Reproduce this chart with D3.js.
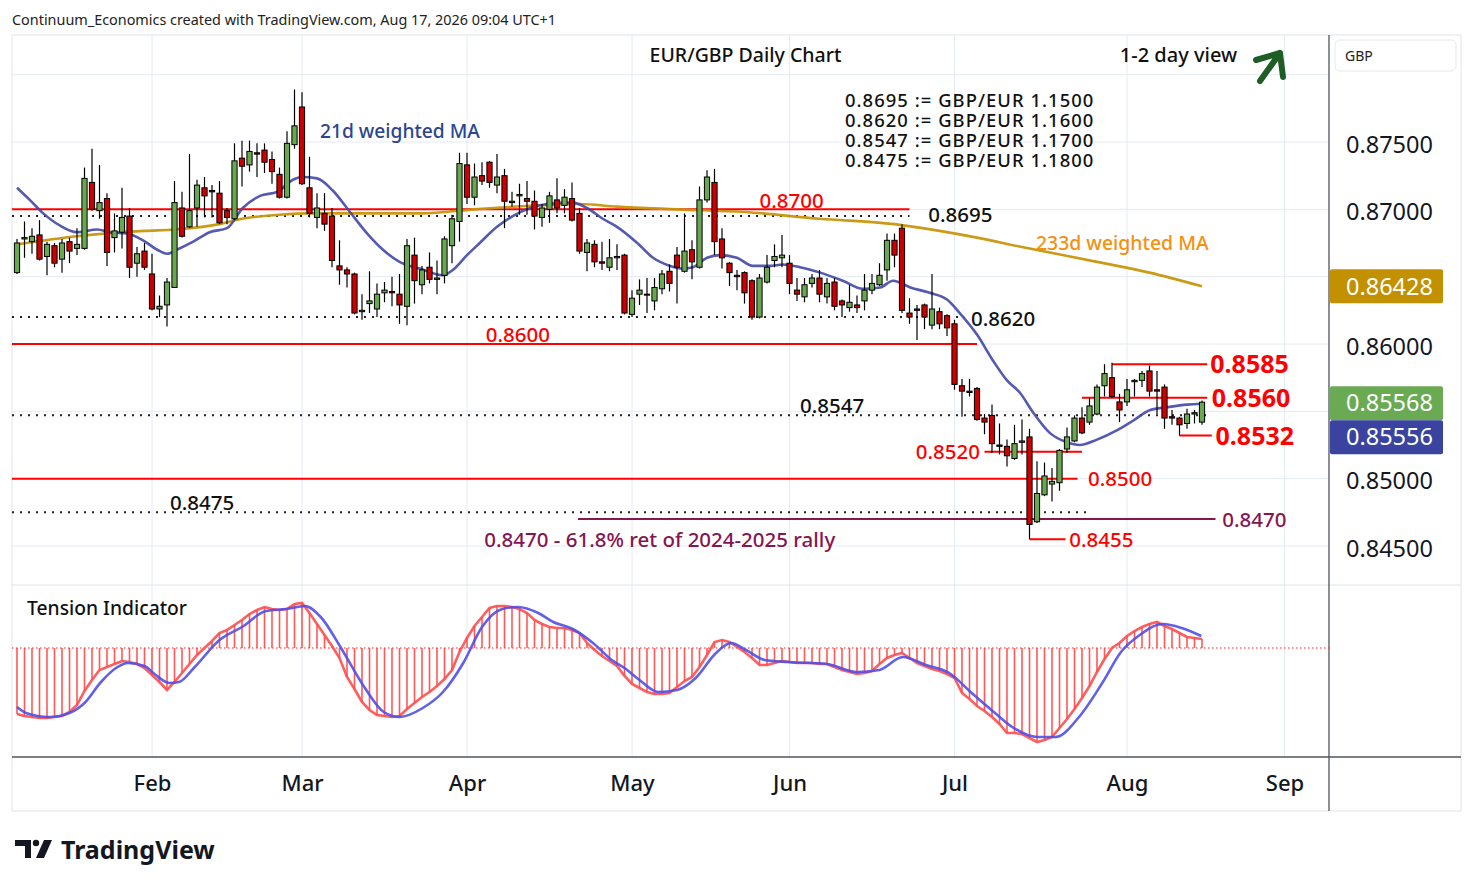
<!DOCTYPE html>
<html><head><meta charset="utf-8">
<script src="https://cdn.jsdelivr.net/npm/d3@7"></script>
<style>
body{margin:0;background:#fff;}
svg{font-family:"Noto Sans","Open Sans",sans-serif;}
</style></head>
<body>
<svg id="c" width="1474" height="887"></svg>
<script>
// ---------------- DATA ----------------
const startDate = "2026-01-07";           // first bar (weekday bars)
const openP  = [.8653,.8678,.8676,.8681,.8665,.8673,.8663,.8676,.8671,.8671,.8720,.8699,.8708,.8679,.8683,.8695,.8660,.8669,.8652,.8626,
.8629,.8642,.8701,.8687,.8701,.8716,.8714,.8712,.8699,.8693,.8738,.8733,.8742,.8744,.8737,.8726,.8709,.8748,.8776,.8716,
.8694,.8697,.8695,.8658,.8655,.8652,.8624,.8630,.8626,.8638,.8639,.8637,.8628,.8666,.8644,.8657,.8648,.8651,.8673,.8691,
.8733,.8709,.8725,.8735,.8718,.8725,.8705,.8710,.8708,.8706,.8694,.8700,.8707,.8703,.8708,.8697,.8668,.8674,.8661,.8657,
.8664,.8666,.8622,.8637,.8637,.8632,.8641,.8654,.8666,.8654,.8670,.8657,.8707,.8720,.8678,.8660,.8651,.8653,.8647,.8620,
.8646,.8662,.8664,.8660,.8640,.8635,.8645,.8649,.8635,.8646,.8632,.8627,.8629,.8632,.8640,.8644,.8655,.8677,.8686,.8623,
.8626,.8629,.8614,.8624,.8621,.8615,.8569,.8565,.8567,.8545,.8547,.8525,.8524,.8515,.8527,.8531,.8468,.8488,.8496,.8497,
.8522,.8528,.8545,.8542,.8548,.8569,.8575,.8557,.8557,.8572,.8573,.8580,.8566,.8568,.8546,.8545,.8541,.8548,.8542];
const highP  = [.8678,.8691,.8686,.8692,.8676,.8675,.8678,.8679,.8686,.8731,.8745,.8733,.8712,.8697,.8716,.8701,.8672,.8675,.8667,.8636,
.8649,.8721,.8713,.8741,.8722,.8724,.8718,.8721,.8701,.8749,.8751,.8751,.8749,.8749,.8743,.8731,.8758,.8789,.8787,.8739,
.8712,.8712,.8701,.8677,.8657,.8653,.8637,.8654,.8645,.8646,.8650,.8652,.8678,.8679,.8658,.8668,.8662,.8680,.8696,.8742,
.8742,.8734,.8735,.8736,.8741,.8730,.8713,.8719,.8721,.8714,.8704,.8713,.8723,.8715,.8720,.8701,.8678,.8677,.8676,.8678,
.8674,.8667,.8640,.8648,.8649,.8649,.8655,.8659,.8672,.8697,.8677,.8717,.8729,.8730,.8686,.8661,.8655,.8654,.8648,.8652,
.8666,.8674,.8681,.8666,.8649,.8649,.8652,.8655,.8649,.8649,.8633,.8644,.8636,.8652,.8652,.8660,.8682,.8682,.8689,.8634,
.8629,.8630,.8652,.8627,.8622,.8618,.8574,.8574,.8568,.8548,.8555,.8541,.8529,.8540,.8544,.8537,.8513,.8512,.8508,.8522,
.8538,.8547,.8553,.8560,.8570,.8585,.8586,.8563,.8574,.8574,.8580,.8584,.8580,.8570,.8551,.8546,.8552,.8551,.8558];
const lowP   = [.8652,.8664,.8667,.8662,.8651,.8657,.8653,.8660,.8666,.8670,.8699,.8693,.8658,.8668,.8671,.8649,.8650,.8655,.8625,.8620,
.8613,.8642,.8679,.8686,.8687,.8694,.8694,.8689,.8689,.8692,.8717,.8728,.8724,.8727,.8719,.8708,.8708,.8745,.8718,.8694,
.8686,.8684,.8657,.8644,.8642,.8622,.8618,.8623,.8620,.8631,.8628,.8615,.8614,.8630,.8637,.8645,.8637,.8645,.8660,.8676,
.8704,.8703,.8718,.8716,.8712,.8686,.8702,.8696,.8696,.8685,.8687,.8690,.8697,.8697,.8691,.8667,.8654,.8657,.8655,.8654,
.8655,.8622,.8620,.8629,.8623,.8625,.8637,.8639,.8630,.8653,.8648,.8656,.8705,.8666,.8656,.8643,.8640,.8630,.8618,.8619,
.8645,.8657,.8657,.8637,.8632,.8631,.8642,.8631,.8630,.8625,.8620,.8624,.8623,.8625,.8637,.8643,.8647,.8657,.8623,.8615,
.8603,.8611,.8611,.8611,.8606,.8566,.8546,.8561,.8543,.8533,.8519,.8518,.8509,.8514,.8518,.8455,.8467,.8487,.8483,.8491,
.8519,.8527,.8533,.8540,.8547,.8561,.8560,.8542,.8554,.8561,.8568,.8561,.8548,.8537,.8540,.8532,.8537,.8541,.8540];
const closeP = [.8675,.8679,.8680,.8663,.8674,.8660,.8675,.8669,.8674,.8723,.8700,.8705,.8668,.8684,.8694,.8657,.8667,.8657,.8626,.8628,
.8646,.8705,.8680,.8699,.8718,.8710,.8713,.8690,.8694,.8736,.8732,.8743,.8741,.8735,.8728,.8709,.8749,.8762,.8719,.8697,
.8701,.8689,.8662,.8655,.8652,.8623,.8625,.8632,.8637,.8640,.8638,.8629,.8673,.8647,.8655,.8648,.8649,.8678,.8693,.8734,
.8709,.8724,.8721,.8720,.8724,.8706,.8706,.8711,.8706,.8695,.8701,.8710,.8701,.8709,.8692,.8669,.8675,.8661,.8660,.8664,
.8665,.8623,.8634,.8640,.8637,.8642,.8652,.8645,.8657,.8669,.8661,.8707,.8724,.8676,.8664,.8653,.8650,.8638,.8620,.8649,
.8657,.8665,.8666,.8645,.8637,.8644,.8649,.8637,.8645,.8628,.8629,.8631,.8627,.8640,.8645,.8651,.8677,.8666,.8625,.8620,
.8625,.8620,.8626,.8615,.8612,.8570,.8565,.8564,.8544,.8542,.8526,.8524,.8517,.8526,.8528,.8466,.8489,.8502,.8498,.8521,
.8531,.8545,.8534,.8554,.8568,.8578,.8561,.8551,.8566,.8573,.8578,.8565,.8565,.8545,.8545,.8540,.8548,.8549,.85568];

// 21d weighted MA (bar index, value)
const ma21Idx = [0,1.7,3.5,5.7,8,10.7,12.4,14.7,16.8,18.7,20,21.3,23.5,25.7,28,30.1,32.4,34.7,36.8,38,40,42.1,44.4,46.7,48.8,51,53.7,56.8,58.1,60,61.7,64,66.1,68.4,70.7,74.1,76,78.1,80,82.7,84.8,87.1,88.8,90.1,92,93.7,96,98.1,100.4,102.1,104.4,107.1,110.1,112.8,115.1,116.8,119.1,121.7,124,125.7,128,130.1,132,133.7,135.5,137.7,140,141.7,144,146.7,148.8,151.1,153.3,156,158];
const ma21Val = [.8716,.8707,.8697,.8688,.8683,.8685,.8683,.8682,.8677,.8670,.8667,.8670,.8676,.8683,.8686,.8701,.8710,.8713,.8722,.8724,.8723,.8714,.8698,.8682,.8670,.8661,.8656,.8651,.8655,.8666,.8675,.8687,.8695,.8701,.8704,.8705,.8701,.8693,.8687,.8675,.8664,.8658,.8656,.8657,.8664,.8666,.8664,.8658,.8658,.8659,.8657,.8653,.8647,.8641,.8642,.8647,.8642,.8638,.8633,.8623,.8607,.8588,.8573,.8564,.8549,.8534,.8527,.8525,.8529,.8536,.8543,.8551,.8553,.8555,.85556];
// 233d weighted MA
const ma233Idx = [0,8,17,21,27,30,35,39,43,54,61,70,75,80,88,97,107,117,123,128,134,144,151,158];
const ma233Val = [.8674,.8680,.8684,.8685,.8689,.8693,.8696,.8697,.8697,.8697,.8700,.8703,.8704,.8702,.8700,.8698,.8693,.8689,.8684,.8679,.8672,.8661,.8653,.86428];

// Tension indicator: fast line / histogram (one value per bar)
const tensionFast = [-66,-68,-69,-70,-70,-69,-68,-64,-57,-43,-32,-22,-19,-16,-13,-14,-16,-20,-27,-34,
-42,-34,-25,-16,-7,0,7,15,18,23,28,34,38,41,39,38,39,44,45,35,
24,13,2,-10,-29,-41,-54,-62,-67,-68,-69,-68,-61,-55,-49,-44,-38,-31,-22,-4,
10,22,31,40,42,42,41,39,35,28,24,21,20,20,18,15,5,-2,-8,-13,
-18,-28,-36,-40,-44,-46,-46,-45,-39,-33,-29,-19,-7,6,8,6,1,-4,-10,-17,
-17,-15,-13,-14,-15,-15,-15,-16,-16,-19,-22,-24,-26,-25,-23,-16,-10,-7,-5,-10,
-15,-18,-21,-23,-26,-30,-45,-51,-58,-63,-69,-76,-85,-85,-86,-90,-94,-92,-89,-80,
-71,-61,-50,-38,-24,-11,0,5,12,17,21,24,26,22,19,15,11,10,9];
// Tension indicator: slow (signal) line
const tensionSlowIdx = [0,1.2,4.3,7,9,11.2,13.2,14.8,17,18.5,20.3,21.6,23.7,27,30,33.2,35.9,38.4,40.5,43.2,46.3,48.9,51,54.1,56.8,59.5,62,64.7,66.8,69.5,71.5,74.1,76.8,79.3,81,83,85.5,88,90.5,93.2,95.2,97.2,99.7,102.8,108,112,115,118.1,121.2,124.3,127.3,130.4,132.9,136,138.5,141.6,144.7,147.2,149.7,152.8,155.3,157.9];
const tensionSlowVal = [-59,-65,-69,-65,-55,-34,-20,-15,-18,-27,-35,-34,-19,8,21,37,39,42,31,0,-39,-64,-69,-60,-44,-15,21,39,41,35,26,19,5,-12,-20,-32,-44,-42,-30,-5,5,-2,-12,-14,-16,-24,-22,-9,-17,-25,-45,-65,-80,-89,-89,-69,-35,-4,13,24,20,12];

const priceTicks = [0.845,0.850,0.860,0.865,0.870,0.875];
const gridPrices = [0.845,0.850,0.855,0.860,0.865,0.870,0.875,0.880];
const monthDates  = ["2026-02-02","2026-03-02","2026-04-01","2026-05-01","2026-06-01","2026-07-01","2026-08-03","2026-09-01"];
const monthLabels = ["Feb","Mar","Apr","May","Jun","Jul","Aug","Sep"];

const convLabels = ["0.8695 := GBP/EUR 1.1500","0.8620 := GBP/EUR 1.1600","0.8547 := GBP/EUR 1.1700","0.8475 := GBP/EUR 1.1800"];
const lastMA233 = 0.86428, lastClose = 0.85568, lastMA21 = 0.85556;

// level lines: value, from bar, to bar, kind
const levels = [
 {v:0.8700, a:-1, b:119, kind:"red",   label:"0.8700", lx:99, anchor:"start", dy:-9, size:20.5},
 {v:0.8695, a:-1, b:119, kind:"dot",   label:"0.8695", lx:121.5, anchor:"start", dy:-2, size:20.5},
 {v:0.8620, a:-1, b:126.3,kind:"dot",  label:"0.8620", lx:127.2, anchor:"start", dy:1, size:20.5},
 {v:0.8600, a:-1, b:128, kind:"red",   label:"0.8600", lx:62.5, anchor:"start", dy:-10, size:20.5},
 {v:0.8547, a:-1, b:159, kind:"dot",   label:"0.8547", lx:104.4, anchor:"start", dy:-10, size:20.5},
 {v:0.8585, a:146, b:158.7,kind:"redS",label:"0.8585", lx:159.1, anchor:"start", dy:0, size:25},
 {v:0.8560, a:142, b:158.7,kind:"redS",label:"0.8560", lx:159.3, anchor:"start", dy:0, size:25},
 {v:0.8532, a:155, b:159.3,kind:"redS",label:"0.8532", lx:159.8, anchor:"start", dy:1, size:25},
 {v:0.8520, a:129, b:142, kind:"redS", label:"0.8520", lx:128.4, anchor:"end", dy:0, size:20.5},
 {v:0.8500, a:-1, b:141.4,kind:"red",  label:"0.8500", lx:142.8, anchor:"start", dy:0, size:20.5},
 {v:0.8475, a:-1, b:142.6,kind:"dot",  label:"0.8475", lx:20.4, anchor:"start", dy:-10, size:20.5},
 {v:0.8470, a:74.8, b:159.8,kind:"pur",label:"0.8470", lx:160.7, anchor:"start", dy:0, size:20.5},
 {v:0.8455, a:135, b:139.8,kind:"redS",label:"0.8455", lx:140.3, anchor:"start", dy:0, size:20.5}
];

// ---------------- LAYOUT ----------------
const L = 12, R = 1329, RE = 1461, TOP = 35, PANE = 585, BOT = 757, XAX = 811, TY = 2;
const svg = d3.select("#c");
const nBars = closeP.length;

function dayIndex(ds){
  const s = new Date(startDate+"T00:00:00Z"), d = new Date(ds+"T00:00:00Z");
  let n = 0; const t = new Date(s);
  while (t < d){ t.setUTCDate(t.getUTCDate()+1); const w=t.getUTCDay(); if(w!==0&&w!==6) n++; }
  return n;
}
const monthIdx = monthDates.map(dayIndex);

const x = d3.scaleLinear().domain([0, nBars-1]).range([17, 17+7.5*(nBars-1)]);
const y = d3.scaleLinear().domain([0.845, 0.875]).range([546, 142]);
const yt = d3.scaleLinear().domain([-100, 60]).range([748, 588]);

svg.append("rect").attr("x",L).attr("y",TOP).attr("width",RE-L).attr("height",XAX-TOP)
  .attr("fill","#fff").attr("stroke","#e0e3eb").attr("stroke-width",1);

const grid = svg.append("g");
grid.selectAll(".hg").data(gridPrices).join("line")
  .attr("x1",L).attr("x2",R).attr("y1",d=>y(d)).attr("y2",d=>y(d))
  .attr("stroke","#e4ebf3").attr("stroke-width",1);
grid.selectAll(".vg").data(monthIdx).join("line")
  .attr("x1",d=>x(d)).attr("x2",d=>x(d)).attr("y1",TOP).attr("y2",BOT)
  .attr("stroke","#e4ebf3").attr("stroke-width",1);

svg.append("line").attr("x1",L).attr("x2",RE).attr("y1",PANE).attr("y2",PANE).attr("stroke","#e0e3eb");
svg.append("line").attr("x1",L).attr("x2",RE).attr("y1",BOT).attr("y2",BOT).attr("stroke","#50535e").attr("stroke-width",1.3);
svg.append("line").attr("x1",R).attr("x2",R).attr("y1",TOP).attr("y2",XAX).attr("stroke","#50535e").attr("stroke-width",1.3);

svg.append("clipPath").attr("id","mainClip").append("rect").attr("x",L).attr("y",TOP).attr("width",R-L).attr("height",PANE-TOP);
const main = svg.append("g").attr("clip-path","url(#mainClip)");

const colorOf = k => k==="pur" ? "#86164f" : (k==="dot" ? "#222" : "#ff0000");
levels.forEach(lv=>{
  const ln = main.append("line")
    .attr("x1", lv.a < 0 ? L : x(lv.a)).attr("x2", x(lv.b))
    .attr("y1", y(lv.v)).attr("y2", y(lv.v))
    .attr("stroke", colorOf(lv.kind));
  if (lv.kind==="dot") ln.attr("stroke-width",2).attr("stroke-dasharray","2,6");
  else ln.attr("stroke-width",2);
});

const line = d3.line().x(d=>x(d[0])).y(d=>y(d[1])).curve(d3.curveMonotoneX);
main.append("path").datum(ma233Idx.map((d,i)=>[d,ma233Val[i]]))
  .attr("d",line).attr("fill","none").attr("stroke","#c8960c").attr("stroke-width",2.6).attr("opacity",0.95);
main.append("path").datum(ma21Idx.map((d,i)=>[d,ma21Val[i]]))
  .attr("d",line).attr("fill","none").attr("stroke","#4248a8").attr("stroke-width",2.6).attr("opacity",0.9);

const bars = d3.range(nBars).map(i=>({i,o:openP[i],h:highP[i],l:lowP[i],c:closeP[i]}));
const cg = main.append("g");
cg.selectAll(".wick").data(bars).join("line")
  .attr("x1",d=>x(d.i)).attr("x2",d=>x(d.i)).attr("y1",d=>y(d.h)).attr("y2",d=>y(d.l))
  .attr("stroke","#000").attr("stroke-width",1.2);
cg.selectAll(".body").data(bars).join("rect")
  .attr("x",d=>x(d.i)-2.6).attr("width",5.2)
  .attr("y",d=>y(Math.max(d.o,d.c)))
  .attr("height",d=>Math.max(1,Math.abs(y(d.o)-y(d.c))))
  .attr("fill",d=>d.c>=d.o?"#6aa84f":"#cc0000")
  .attr("stroke","#000").attr("stroke-width",1);

levels.forEach(lv=>{
  main.append("text").attr("x",x(lv.lx)).attr("y",y(lv.v)+lv.dy+TY)
    .attr("dominant-baseline","middle").attr("text-anchor",lv.anchor)
    .attr("font-size",lv.size).attr("font-weight",lv.size>22?"bold":"500")
    .attr("fill", lv.kind==="dot" ? "#111" : (lv.kind==="pur" ? "#86164f" : "#ff0000"))
    .text(lv.label);
});
main.append("text").attr("x",x(62.3)).attr("y",y(0.8470)+20+TY).attr("dominant-baseline","middle")
  .attr("font-size",20.5).attr("font-weight","500").attr("fill","#86164f").text("0.8470 - 61.8% ret of 2024-2025 rally");

main.append("text").attr("x",320).attr("y",131+TY).attr("dominant-baseline","middle").attr("font-size",19.2)
  .attr("font-weight","500").attr("fill","#2b4590").text("21d weighted MA");
main.append("text").attr("x",1036).attr("y",243+TY).attr("dominant-baseline","middle").attr("font-size",19.4)
  .attr("font-weight","500").attr("fill","#f5900f").text("233d weighted MA");
const conv = main.append("text").attr("x",845).attr("y",100+TY).attr("dominant-baseline","middle")
  .attr("font-size",18.4).attr("letter-spacing",1.05).attr("font-weight","500").attr("fill","#111");
conv.selectAll("tspan").data(convLabels).join("tspan")
  .attr("x",845).attr("dy",(d,i)=>i===0?0:20).text(d=>d);
main.append("text").attr("x",745.5).attr("y",55+TY).attr("text-anchor","middle").attr("dominant-baseline","middle")
  .attr("font-size",19.5).attr("font-weight","500").attr("fill","#111").text("EUR/GBP Daily Chart");
main.append("text").attr("x",1178.5).attr("y",55+TY).attr("text-anchor","middle").attr("dominant-baseline","middle")
  .attr("font-size",20).attr("font-weight","500").attr("fill","#111").text("1-2 day view");
main.append("path").attr("d","M1256,60 L1280,53 L1283,77 M1280,53 L1260,81")
  .attr("fill","none").attr("stroke","#1e5d23").attr("stroke-width",6).attr("stroke-linecap","round").attr("stroke-linejoin","round");

// ---------------- TENSION PANE ----------------
svg.append("clipPath").attr("id","tClip").append("rect").attr("x",L).attr("y",PANE).attr("width",R-L).attr("height",BOT-PANE);
const tp = svg.append("g").attr("clip-path","url(#tClip)");
tp.append("line").attr("x1",L).attr("x2",R).attr("y1",yt(0)).attr("y2",yt(0))
  .attr("stroke","#ff2020").attr("stroke-width",1.2).attr("stroke-dasharray","1.5,2.5");
tp.selectAll(".hist").data(tensionFast).join("line")
  .attr("x1",(d,i)=>x(i)).attr("x2",(d,i)=>x(i)).attr("y1",yt(0)).attr("y2",d=>yt(d))
  .attr("stroke","#ff3b3b").attr("stroke-width",1.6).attr("opacity",0.85);
tp.append("path").datum(tensionFast.map((d,i)=>[i,d]))
  .attr("d",d3.line().x(d=>x(d[0])).y(d=>yt(d[1]))).attr("fill","none")
  .attr("stroke","#ff4d4d").attr("stroke-width",2.6).attr("opacity",0.9);
tp.append("path").datum(tensionSlowIdx.map((d,i)=>[d,tensionSlowVal[i]]))
  .attr("d",d3.line().x(d=>x(d[0])).y(d=>yt(d[1])).curve(d3.curveMonotoneX)).attr("fill","none")
  .attr("stroke","#4f4fe8").attr("stroke-width",2.6).attr("opacity",0.9);
svg.append("text").attr("x",27).attr("y",608+TY).attr("dominant-baseline","middle").attr("font-size",19.3)
  .attr("font-weight","500").attr("fill","#111").text("Tension Indicator");

// ---------------- AXES ----------------
const yAxis = d3.axisRight(y).tickValues(priceTicks).tickFormat(d3.format(".5f")).tickSize(0).tickPadding(0);
const ya = svg.append("g").attr("transform",`translate(1346,${TY})`).call(yAxis);
ya.select(".domain").remove();
ya.selectAll("text").attr("font-size",23.5).attr("fill","#131722").attr("font-family","Noto Sans, sans-serif").attr("dy","0.35em");

const xAxis = d3.axisBottom(x).tickValues(monthIdx).tickFormat((d,i)=>monthLabels[i]).tickSize(0).tickPadding(0);
const xa = svg.append("g").attr("transform",`translate(0,${781+TY})`).call(xAxis);
xa.select(".domain").remove();
xa.selectAll("text").attr("font-size",22).attr("font-weight","500").attr("fill","#131722")
  .attr("font-family","Noto Sans, sans-serif").attr("dy","0.35em");

const tagH = 34;
function tag(v, yc, fill){
  const g = svg.append("g");
  g.append("rect").attr("x",R+1).attr("y",yc-tagH/2).attr("width",113).attr("height",tagH).attr("rx",2).attr("fill",fill);
  g.append("text").attr("x",1346).attr("y",yc+TY).attr("dominant-baseline","middle").attr("font-size",23.5)
    .attr("fill","#fff").text(d3.format(".5f")(v));
}
tag(lastMA233, y(lastMA233), "#c39100");
tag(lastClose, y(lastClose)+1, "#69aa52");
tag(lastMA21, y(lastClose)+1+tagH, "#3a44a0");

svg.append("rect").attr("x",1335).attr("y",40).attr("width",121).attr("height",31).attr("rx",5)
  .attr("fill","#fff").attr("stroke","#e6e8ee");
svg.append("text").attr("x",1345).attr("y",56+TY/2).attr("dominant-baseline","middle").attr("font-size",14)
  .attr("fill","#222").text("GBP");

svg.append("text").attr("x",12).attr("y",20+TY/2).attr("dominant-baseline","middle").attr("font-size",14.4)
  .attr("fill","#222").text("Continuum_Economics created with TradingView.com, Aug 17, 2026 09:04 UTC+1");

const lg = svg.append("g").attr("fill","#131722");
lg.append("path").attr("d","M15,840 H31 V858 H25 V846 H15 Z");
lg.append("circle").attr("cx",36).attr("cy",843).attr("r",3.2);
lg.append("path").attr("d","M44,840 H52 L44,858 H36 Z");
svg.append("text").attr("x",61).attr("y",850+TY).attr("dominant-baseline","middle").attr("font-size",25)
  .attr("font-weight","bold").attr("fill","#131722").text("TradingView");
</script>
</body></html>
